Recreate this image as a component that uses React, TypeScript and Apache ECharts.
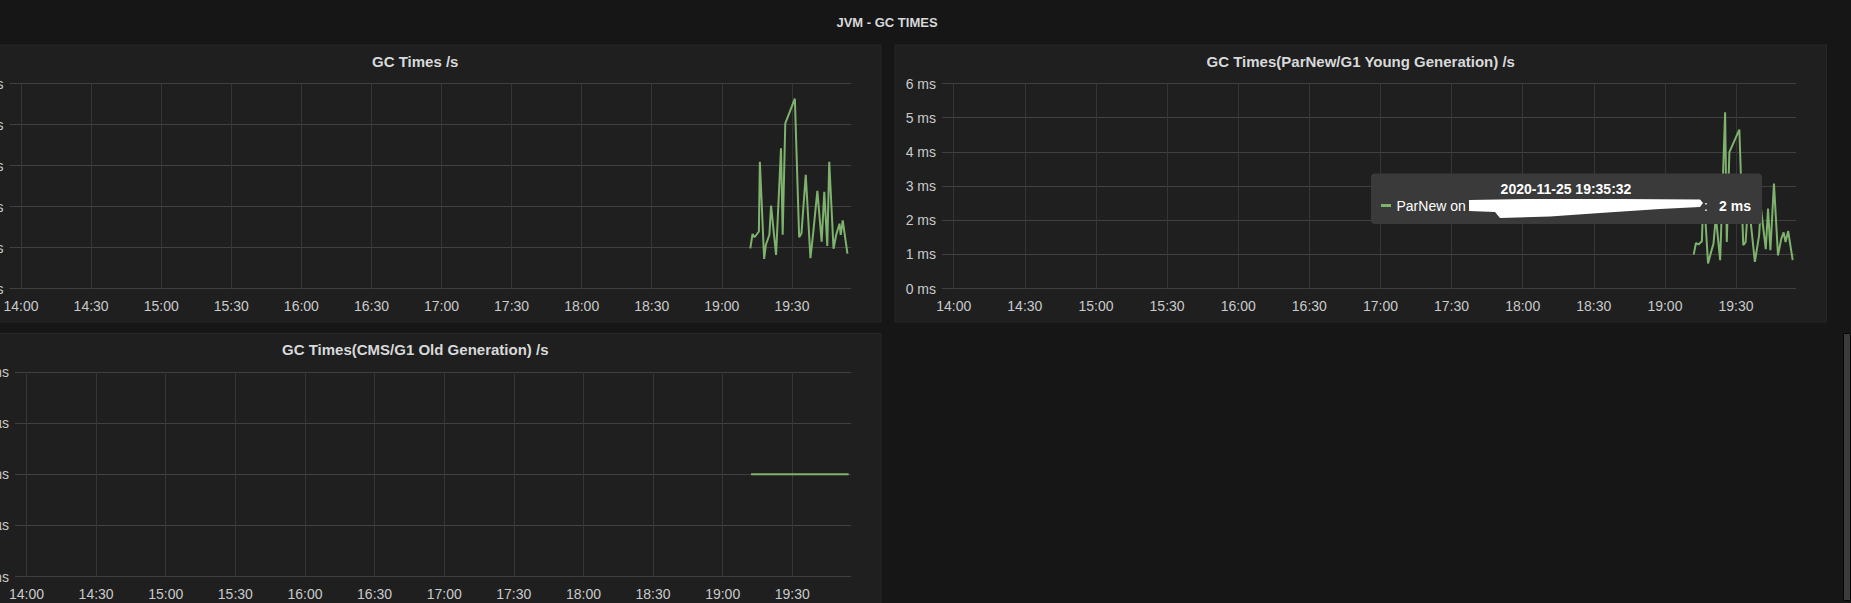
import React, { useEffect, useRef } from "react";
import * as echarts from "echarts";

// ---------- data ----------
// x values are times of day on 2020-11-25; the axis works in minutes since midnight
const X_START = "13:55:03";
const X_END = "19:55:18";
const X_TICK_STEP_MIN = 30;

const PAGE_TITLE = "JVM - GC TIMES";
const PANEL_TITLES = [
  "GC Times /s",
  "GC Times(ParNew/G1 Young Generation) /s",
  "GC Times(CMS/G1 Old Generation) /s",
];

// Panel 1: GC Times /s (ms)
const gcTimes = [
  "19:12:11", "19:13:09", "19:14:00", "19:15:52", "19:16:17", "19:18:07", "19:18:50", "19:20:22",
  "19:21:05", "19:23:13", "19:25:20", "19:26:03", "19:27:10", "19:31:16", "19:33:06", "19:34:06",
  "19:35:56", "19:37:56", "19:39:02", "19:40:54", "19:42:44", "19:43:52", "19:45:09", "19:45:59",
  "19:47:49", "19:48:58", "19:50:22", "19:50:55", "19:51:46", "19:53:46",
];
const gcValues = [
  0.98, 1.33, 1.25, 1.39, 3.09, 0.72, 1.06, 1.31,
  2.02, 0.82, 3.42, 1.31, 4.03, 4.63, 1.25, 1.35,
  2.77, 0.74, 1.31, 2.38, 1.14, 2.36, 1.04, 3.09,
  0.97, 1.31, 1.58, 1.31, 1.66, 0.85,
];
const gcYTicks = [0, 1, 2, 3, 4, 5];

// Panel 2: ParNew / G1 Young Generation (ms)
const youngTimes = [
  "19:12:08", "19:13:06", "19:14:12", "19:15:36", "19:16:18", "19:18:12", "19:19:24", "19:20:30",
  "19:21:30", "19:23:18", "19:25:24", "19:26:06", "19:27:12", "19:31:24", "19:33:03", "19:34:03",
  "19:35:12", "19:37:57", "19:39:45", "19:40:27", "19:42:33", "19:43:30", "19:44:30", "19:46:00",
  "19:47:42", "19:49:06", "19:50:06", "19:50:54", "19:52:00", "19:53:54",
];
const youngValues = [
  0.99, 1.33, 1.29, 1.38, 2.9, 0.73, 1.05, 1.32,
  2.1, 0.83, 5.16, 1.36, 3.99, 4.65, 1.27, 1.36,
  2.6, 0.78, 1.56, 2.39, 1.15, 2.34, 1.12, 3.07,
  0.97, 1.46, 1.64, 1.36, 1.68, 0.83,
];
const youngYTicks = [0, 1, 2, 3, 4, 5, 6];

// Panel 3: CMS / G1 Old Generation (ms)
const oldTimes = ["19:12:14", "19:54:18"];
const oldValues = [0, 0];
const oldYTicks = [-1, -0.5, 0, 0.5, 1];
const oldYLabels = ["-1.0 ms", "-500 µs", "0 ns", "500 µs", "1.0 ms"];

// Tooltip snapshot
const TIP_TIME = "2020-11-25 19:35:32";
const TIP_SERIES = "ParNew on";
const TIP_VALUE = "2 ms";

// ---------- helpers ----------
const toMin = (hms: string) => {
  const [h, m, s] = hms.split(":").map(Number);
  return h * 60 + m + s / 60;
};
const pad = (n: number) => (n < 10 ? "0" + n : "" + n);
const timeFmt = (v: number) => {
  const k = v / X_TICK_STEP_MIN;
  if (Math.abs(k - Math.round(k)) > 1e-6) return "";
  const mins = Math.round(v);
  return pad(Math.floor(mins / 60)) + ":" + pad(mins % 60);
};

const FONT = "Liberation Sans, Arial, Helvetica, sans-serif";
const TICK_COLOR = "#c9cacb";
const TITLE_COLOR = "#d8d9da";
const GREEN = "#7eb26d";
const PAGE_BG = "#161616";
const PANEL_BG = "#1f1f1f";
const PANEL_BORDER = "#272727";
const H_GRID = "#404040";
const V_GRID = "#363636";

export default function App() {
  const ref = useRef<HTMLDivElement>(null);

  useEffect(() => {
    if (!ref.current) return;
    document.body.style.margin = "0";
    document.body.style.background = PAGE_BG;
    const chart = echarts.init(ref.current, null, { renderer: "svg" });

    const grids = [
      { left: 9.5, top: 83.5, width: 841.5, height: 205 },
      { left: 942, top: 83.5, width: 854, height: 205 },
      { left: 15, top: 372, width: 836, height: 204.5 },
    ];

    const xAxis = grids.map((_, i) => ({
      type: "value",
      gridIndex: i,
      min: toMin(X_START),
      max: toMin(X_END),
      minInterval: X_TICK_STEP_MIN,
      maxInterval: X_TICK_STEP_MIN,
      axisLine: { show: false },
      axisTick: { show: false },
      axisLabel: {
        color: TICK_COLOR,
        fontSize: 14,
        fontFamily: FONT,
        margin: 10,
        hideOverlap: false,
        showMinLabel: true,
        showMaxLabel: true,
        formatter: (v: number) => timeFmt(v),
      },
      splitLine: {
        show: true,
        showMinLine: false,
        showMaxLine: false,
        lineStyle: { color: V_GRID, width: 1 },
      },
    }));

    const yBase = (i: number) => ({
      type: "value",
      gridIndex: i,
      axisLine: { show: false },
      axisTick: { show: false },
      splitLine: { show: true, lineStyle: { color: H_GRID, width: 1 } },
    });

    const yAxis = [
      {
        ...yBase(0),
        min: gcYTicks[0],
        max: gcYTicks[gcYTicks.length - 1],
        interval: gcYTicks[1] - gcYTicks[0],
        axisLabel: { color: TICK_COLOR, fontSize: 14, fontFamily: FONT, margin: 6, formatter: "{value} ms" },
      },
      {
        ...yBase(1),
        min: youngYTicks[0],
        max: youngYTicks[youngYTicks.length - 1],
        interval: youngYTicks[1] - youngYTicks[0],
        axisLabel: { color: TICK_COLOR, fontSize: 14, fontFamily: FONT, margin: 6, formatter: "{value} ms" },
      },
      {
        ...yBase(2),
        min: oldYTicks[0],
        max: oldYTicks[oldYTicks.length - 1],
        interval: oldYTicks[1] - oldYTicks[0],
        axisLabel: {
          color: TICK_COLOR,
          fontSize: 14,
          fontFamily: FONT,
          margin: 6,
          formatter: (v: number) => {
            const k = oldYTicks.findIndex((t) => Math.abs(t - v) < 1e-9);
            return k >= 0 ? oldYLabels[k] : "";
          },
        },
      },
    ];

    const lineSeries = (i: number, times: string[], values: number[]) => ({
      type: "line",
      xAxisIndex: i,
      yAxisIndex: i,
      data: times.map((t, k) => [toMin(t), values[k]]),
      showSymbol: false,
      symbol: "none",
      silent: true,
      lineStyle: { color: GREEN, width: 2 },
      z: 3,
    });

    const panels = [
      { x: -50.5, y: 45, w: 931.5, h: 277 },
      { x: 895, y: 45, w: 931.5, h: 277 },
      { x: -50.5, y: 333.5, w: 931.5, h: 300 },
    ];

    const graphic: any[] = [];
    panels.forEach((p, i) => {
      graphic.push({
        type: "rect",
        z: -10,
        silent: true,
        shape: { x: p.x, y: p.y, width: p.w, height: p.h },
        style: { fill: PANEL_BG, stroke: PANEL_BORDER, lineWidth: 1 },
      });
      graphic.push({
        type: "text",
        z: 5,
        silent: true,
        x: p.x + p.w / 2,
        y: p.y + 16,
        style: {
          text: PANEL_TITLES[i],
          fill: TITLE_COLOR,
          font: `bold 15px ${FONT}`,
          align: "center",
          verticalAlign: "middle",
        },
      });
    });
    graphic.push({
      type: "text",
      silent: true,
      x: 887,
      y: 22,
      style: { text: PAGE_TITLE, fill: TITLE_COLOR, font: `bold 13px ${FONT}`, align: "center", verticalAlign: "middle" },
    });
    // scrollbar
    graphic.push({
      type: "rect",
      silent: true,
      shape: { x: 1843.5, y: 333.5, width: 7, height: 267, r: 1 },
      style: { fill: "#3b3b3b", stroke: "#050505", lineWidth: 1 },
    });
    // tooltip snapshot
    graphic.push({
      type: "group",
      z: 50,
      silent: true,
      children: [
        {
          type: "rect",
          z: 50,
          shape: { x: 1371, y: 173.5, width: 391, height: 50.5, r: 4 },
          style: { fill: "#3a3a3a" },
        },
        {
          type: "text",
          z: 51,
          x: 1566,
          y: 188.5,
          style: { text: TIP_TIME, fill: "#ffffff", font: `bold 14px ${FONT}`, align: "center", verticalAlign: "middle" },
        },
        {
          type: "rect",
          z: 51,
          shape: { x: 1381, y: 204, width: 10, height: 3 },
          style: { fill: GREEN },
        },
        {
          type: "text",
          z: 51,
          x: 1396.5,
          y: 205.5,
          style: { text: TIP_SERIES, fill: "#ffffff", font: `14px ${FONT}`, align: "left", verticalAlign: "middle" },
        },
        {
          type: "polygon",
          z: 52,
          shape: {
            points: [
              [1469, 200], [1530, 199], [1620, 199], [1700, 199.5], [1703, 203], [1700, 207],
              [1660, 209], [1600, 213], [1550, 216.5], [1500, 218], [1495, 212], [1469, 211],
            ],
          },
          style: { fill: "#ffffff" },
        },
        {
          type: "text",
          z: 51,
          x: 1704,
          y: 205.5,
          style: { text: ":", fill: "#ffffff", font: `14px ${FONT}`, align: "left", verticalAlign: "middle" },
        },
        {
          type: "text",
          z: 51,
          x: 1751,
          y: 205.5,
          style: { text: TIP_VALUE, fill: "#ffffff", font: `bold 14px ${FONT}`, align: "right", verticalAlign: "middle" },
        },
      ],
    });

    chart.setOption({
      animation: false,
      backgroundColor: PAGE_BG,
      grid: grids.map((g) => ({ ...g, containLabel: false, outerBoundsMode: "none", show: false })),
      xAxis,
      yAxis,
      series: [
        lineSeries(0, gcTimes, gcValues),
        lineSeries(1, youngTimes, youngValues),
        lineSeries(2, oldTimes, oldValues),
      ],
      graphic,
    } as any);

    return () => chart.dispose();
  }, []);

  return (
    <div
      ref={ref}
      style={{ position: "fixed", left: 0, top: 0, width: 1851, height: 603, overflow: "hidden" }}
    />
  );
}
